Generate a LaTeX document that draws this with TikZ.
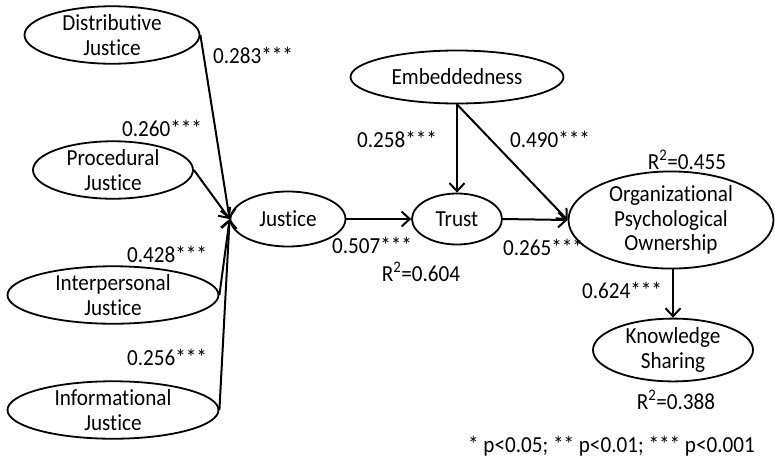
\documentclass[tikz,border=0pt]{standalone}
\usepackage{fontspec}
\setmainfont[Ligatures=NoCommon,FakeStretch=0.92]{Carlito}
\usetikzlibrary{shapes.geometric,arrows.meta}
\begin{document}
\begin{tikzpicture}[x=1pt,y=-1pt,
  lat/.style={draw, ellipse, line width=1.8pt, inner sep=0pt, align=center,
    font=\fontsize{23}{24.5}\selectfont},
  pathar/.style={line width=2pt, -{Straight Barb[length=8pt,width=15pt,line width=2pt]}},
  coef/.style={font=\fontsize{23}{24}\selectfont, inner sep=0pt}]
\useasboundingbox (0,0) rectangle (775,461);
% latent variables
\node[lat, minimum width=175pt, minimum height=54pt] (dj) at (112,35) {Distributive\\Justice};
\node[lat, minimum width=160pt, minimum height=50pt] (pj) at (113,170) {Procedural\\Justice};
\node[lat, minimum width=211pt, minimum height=54pt] (ij) at (113,295) {Interpersonal\\Justice};
\node[lat, minimum width=211pt, minimum height=54pt] (fj) at (113,410) {Informational\\Justice};
\node[lat, minimum width=115pt, minimum height=55pt] (ju) at (288,219) {Justice};
\node[lat, minimum width=213pt, minimum height=53pt] (em) at (457,77) {Embeddedness};
\node[lat, minimum width=90pt, minimum height=51pt] (tr) at (457,219) {Trust};
\node[lat, minimum width=205pt, minimum height=85pt] (po) at (671,220) {Organizational\\Psychological\\Ownership};
\node[lat, minimum width=160pt, minimum height=50pt] (ks) at (673,350) {Knowledge\\Sharing};
% paths
\draw[pathar] (dj.east) -- (ju.west);
\draw[pathar] (pj.east) -- (ju.west);
\draw[pathar] (ij.east) -- (ju.west);
\draw[pathar] (fj.east) -- (ju.west);
\draw[pathar] (ju.east) -- (tr.west);
\draw[pathar] (tr.east) -- (po.west);
\draw[pathar] (em.south) -- (tr.north);
\draw[pathar] (em.south) -- (po.west);
\draw[pathar] (po.south -| ks.north) -- (ks.north);
% coefficients
\node[coef] (c1) at (253,55) {0.283***};
\node[coef] (c2) at (162,128) {0.260***};
\node[coef] (c3) at (167,254) {0.428***};
\node[coef] (c4) at (167,357) {0.256***};
\node[coef] (c5) at (372,245) {0.507***};
\node[coef] (c6) at (397,139) {0.258***};
\node[coef] (c7) at (550,139) {0.490***};
\node[coef] (c8) at (543,247) {0.265***};
\node[coef] (c9) at (622,290) {0.624***};
\node[coef] (r1) at (421,272) {R\textsuperscript{2}=0.604};
\node[coef] (r2) at (687,160) {R\textsuperscript{2}=0.455};
\node[coef] (r3) at (676,400) {R\textsuperscript{2}=0.388};
\node[coef, anchor=east] (fn) at (755,446) {* p<0.05; ** p<0.01; *** p<0.001};
\end{tikzpicture}
\end{document}
